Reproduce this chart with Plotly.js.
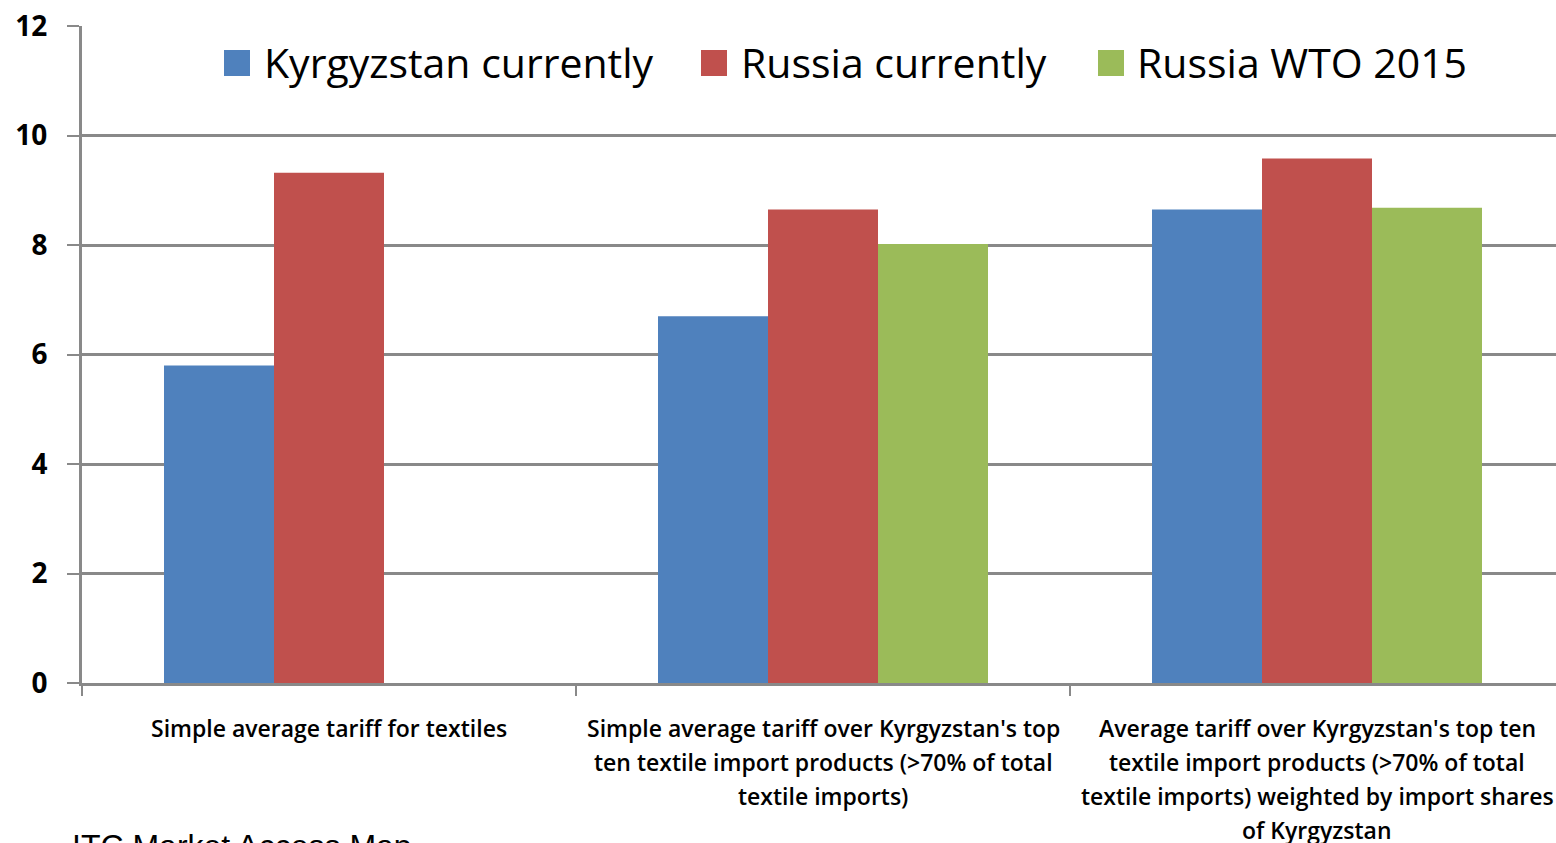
<!DOCTYPE html>
<html>
<head>
<meta charset="utf-8">
<script src="https://cdn.plot.ly/plotly-3.0.1.min.js"></script>
<style>html,body{margin:0;padding:0;background:#fff;overflow:hidden}#chart{width:1556px;height:843px}</style>
</head>
<body>
<div id="chart"></div>
<script>
// ---- data ----
const categories = [
  "Simple average tariff for textiles",
  "Simple average tariff over Kyrgyzstan's top<br>ten textile import products (>70% of total<br>textile imports)",
  "Average tariff over Kyrgyzstan's top ten<br>textile import products (>70% of total<br>textile imports) weighted by import shares<br>of Kyrgyzstan"
];
const seriesNames = ["Kyrgyzstan currently", "Russia currently", "Russia WTO 2015"];
const kyrgyzstanCurrently = [5.8, 6.7, 8.65];
const russiaCurrently = [9.32, 8.65, 9.58];
const russiaWTO2015 = [null, 8.02, 8.68];
const yTickValues = [0, 2, 4, 6, 8, 10, 12];
const sourceNote = "ITC Market Access Map";

// ---- style ----
const colors = ["#4F81BD", "#C0504D", "#9BBB59"];
const W = 1556, H = 843;
const M = {l: 82, r: 0, t: 26, b: 160};
const plotW = W - M.l - M.r, plotH = H - M.t - M.b;
const px2x = px => (px - M.l) / plotW;
const px2y = py => (H - M.b - py) / plotH;
const gridCol = "#898989";
const labelFont = {family: "'Open Sans', Lato, sans-serif", size: 23, color: "#000", weight: 600};

const values = [kyrgyzstanCurrently, russiaCurrently, russiaWTO2015];
const traces = seriesNames.map((n, i) => ({
  type: "bar", name: n, x: categories, y: values[i],
  marker: {color: colors[i], line: {width: 0}},
  showlegend: false, hoverinfo: "skip"
}));

const annotations = [];
const shapes = [];
// category labels, one annotation per line
categories.forEach(c => {
  c.split("<br>").forEach((line, j) => {
    annotations.push({
      xref: "x", yref: "paper", x: c, y: 0, yanchor: "middle", xanchor: "center",
      yshift: -(45 + 34 * j), text: line, showarrow: false, font: labelFont
    });
  });
});
// custom legend
const legendItems = [
  {sq: 224, tx: 262},
  {sq: 701, tx: 739},
  {sq: 1098, tx: 1135}
];
legendItems.forEach((it, i) => {
  shapes.push({
    type: "rect", xref: "paper", yref: "paper",
    x0: px2x(it.sq), x1: px2x(it.sq + 26), y0: px2y(76), y1: px2y(50),
    fillcolor: colors[i], line: {width: 0}
  });
  annotations.push({
    xref: "paper", yref: "paper", x: px2x(it.tx), y: px2y(62), xanchor: "left", yanchor: "middle",
    text: seriesNames[i], showarrow: false,
    font: {family: "'Open Sans', Lato, sans-serif", size: 41, color: "#000"}
  });
});
// source note (clipped at the bottom of the page)
annotations.push({
  xref: "paper", yref: "paper", x: px2x(70), y: 0, xanchor: "left", yanchor: "top",
  yshift: -143, text: sourceNote, showarrow: false,
  font: {family: "'Liberation Sans', Arial, sans-serif", size: 32, color: "#000"}
});

const layout = {
  width: W, height: H, margin: M,
  paper_bgcolor: "#fff", plot_bgcolor: "#fff",
  barmode: "group", bargap: 0.332, bargroupgap: 0,
  showlegend: false,
  xaxis: {
    type: "category", range: [-0.5, -0.5 + plotW / 494],
    showticklabels: false, showgrid: false, zeroline: false,
    tickson: "boundaries", ticks: "outside", ticklen: 10, tickwidth: 2, tickcolor: gridCol,
    showline: true, linecolor: gridCol, linewidth: 3
  },
  yaxis: {
    range: [0, 12], tickvals: yTickValues, ticktext: yTickValues.map(String),
    showgrid: true, gridcolor: gridCol, gridwidth: 3, zeroline: false,
    ticks: "outside", ticklen: 12, tickwidth: 2, tickcolor: gridCol,
    showline: true, linecolor: gridCol, linewidth: 3,
    ticklabelstandoff: 14,
    tickfont: {family: "'Open Sans', Lato, sans-serif", size: 28, color: "#000", weight: "bold"}
  },
  annotations: annotations, shapes: shapes
};

Plotly.newPlot("chart", traces, layout, {staticPlot: true, displayModeBar: false});
</script>
</body>
</html>
